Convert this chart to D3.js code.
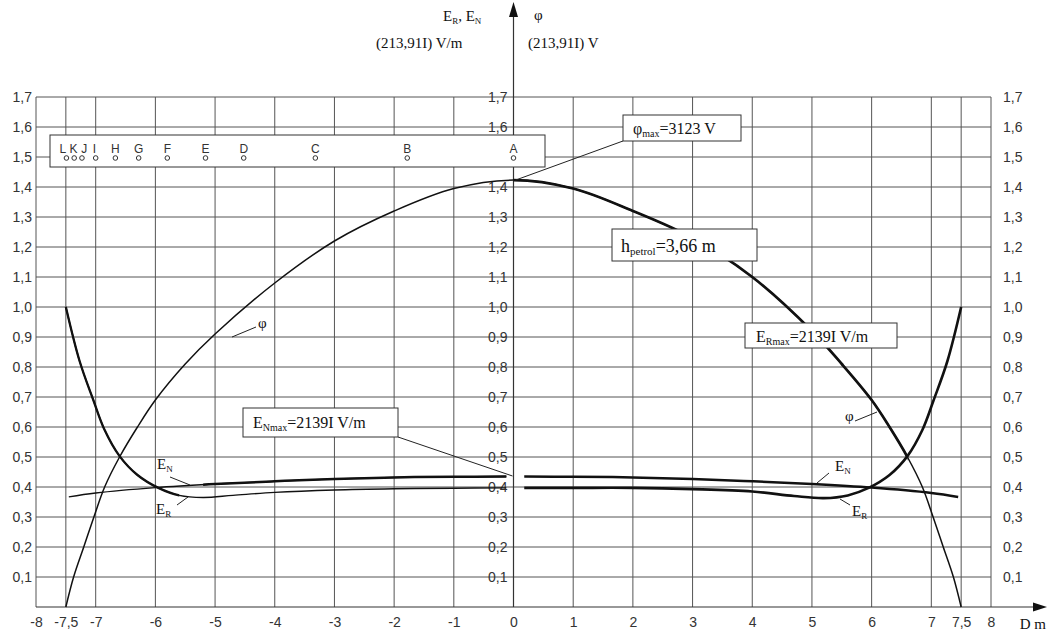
<!DOCTYPE html>
<html>
<head>
<meta charset="utf-8">
<script src="https://cdn.jsdelivr.net/npm/d3@7"></script>
<style>
  body { margin: 0; background: #fff; }
  .tick text { font-family: "Liberation Sans", Arial, sans-serif; font-size: 14px; fill: #333; }
  .serif { font-family: "Liberation Serif", "Times New Roman", serif; fill: #111; }
</style>
</head>
<body>
<div id="chart"></div>
<script>
// tick values
const xTicks = [-8, -7.5, -7, -6, -5, -4, -3, -2, -1, 0, 1, 2, 3, 4, 5, 6, 7, 7.5, 8];
const yTicks = [0.1, 0.2, 0.3, 0.4, 0.5, 0.6, 0.7, 0.8, 0.9, 1.0, 1.1, 1.2, 1.3, 1.4, 1.5, 1.6, 1.7];

// potential phi (relative)
const phiD = [-7.5, -7.37, -7.2, -7.03, -6.85, -6.6, -6.3, -6, -5.5, -5, -4, -3, -2, -1, 0,
              1, 2, 3, 4, 5, 5.5, 6, 6.3, 6.6, 6.85, 7.03, 7.2, 7.37, 7.5];
const phiV = [0, 0.1, 0.2, 0.3, 0.4, 0.5, 0.6, 0.69, 0.81, 0.91, 1.08, 1.22, 1.32, 1.395, 1.423,
              1.395, 1.32, 1.23, 1.1, 0.92, 0.81, 0.69, 0.6, 0.5, 0.4, 0.3, 0.2, 0.1, 0];

// E_R, left and right halves
const erLeftD = [-7.5, -7.27, -7.04, -6.85, -6.6, -6.3, -5.95, -5.6, -5.2, -4.7, -4, -3, -2, -1, -0.12];
const erLeftV = [1.0, 0.82, 0.69, 0.59, 0.503, 0.44, 0.397, 0.372, 0.365, 0.372, 0.382, 0.39, 0.394, 0.396, 0.397];
const erRightD = [0.18, 1, 2, 3, 4, 4.7, 5.2, 5.6, 5.95, 6.3, 6.6, 6.85, 7.04, 7.27, 7.5];
const erRightV = [0.397, 0.397, 0.397, 0.393, 0.385, 0.37, 0.363, 0.372, 0.397, 0.44, 0.503, 0.59, 0.69, 0.82, 1.0];

// E_N, left and right halves
const enLeftD = [-7.45, -7, -6, -5, -4, -3, -2, -1, -0.12];
const enLeftV = [0.367, 0.38, 0.398, 0.41, 0.419, 0.427, 0.432, 0.434, 0.435];
const enRightD = [0.18, 1, 2, 3, 4, 5, 6, 7, 7.45];
const enRightV = [0.435, 0.434, 0.432, 0.427, 0.419, 0.41, 0.398, 0.38, 0.367];

// measuring points (circle position, and where its letter sits)
const ptNames = ["A", "B", "C", "D", "E", "F", "G", "H", "I", "J", "K", "L"];
const ptD = [0, -1.78, -3.32, -4.52, -5.16, -5.8, -6.28, -6.67, -7.0, -7.23, -7.36, -7.49];
const ptLabelD = [0, -1.78, -3.32, -4.52, -5.16, -5.8, -6.28, -6.67, -7.02, -7.19, -7.37, -7.55];

const width = 1048, height = 637;
const gridColor = "#555";

const svg = d3.select("#chart").append("svg")
    .attr("width", width)
    .attr("height", height);

svg.append("rect").attr("width", width).attr("height", height).attr("fill", "#fff");

const x = d3.scaleLinear().domain([-8, 8]).range([36, 991]);
const y = d3.scaleLinear().domain([0, 1.7]).range([607, 97]);

const yFmt = d => d3.format(".1f")(d).replace(".", ",");

// grid
svg.append("g").selectAll("line")
    .data(xTicks)
    .enter()
    .append("line")
    .attr("x1", d => x(d)).attr("x2", d => x(d))
    .attr("y1", y(0)).attr("y2", y(1.7))
    .attr("stroke", gridColor).attr("stroke-width", 1);

svg.append("g").selectAll("line")
    .data(yTicks)
    .enter()
    .append("line")
    .attr("x1", x(-8)).attr("x2", x(8))
    .attr("y1", d => y(d)).attr("y2", d => y(d))
    .attr("stroke", gridColor).attr("stroke-width", 1);

// base line with arrow
svg.append("line")
    .attr("x1", x(-8)).attr("x2", 1036)
    .attr("y1", y(0)).attr("y2", y(0))
    .attr("stroke", "#333").attr("stroke-width", 1.2);
svg.append("path")
    .attr("d", `M1047,${y(0)} L1033,${y(0) - 4.5} L1033,${y(0) + 4.5} Z`)
    .attr("fill", "#111");

// vertical axis with arrow
svg.append("line")
    .attr("x1", x(0)).attr("x2", x(0))
    .attr("y1", y(0)).attr("y2", 12)
    .attr("stroke", "#333").attr("stroke-width", 1.2);
svg.append("path")
    .attr("d", `M${x(0)},2 L${x(0) - 4.5},17 L${x(0) + 4.5},17 Z`)
    .attr("fill", "#111");

// axis labels through d3 axes
const xAxis = svg.append("g")
    .attr("transform", `translate(0,${y(0)})`)
    .call(d3.axisBottom(x).tickValues(xTicks).tickSize(0).tickPadding(10)
        .tickFormat(d => String(d).replace(".", ",")));
xAxis.select(".domain").remove();

const yLeft = svg.append("g")
    .attr("transform", `translate(${x(-8) - 4},0)`)
    .call(d3.axisLeft(y).tickValues(yTicks).tickSize(0).tickPadding(0).tickFormat(yFmt));
yLeft.select(".domain").remove();

const yMid = svg.append("g")
    .attr("transform", `translate(${x(0) - 6},0)`)
    .call(d3.axisLeft(y).tickValues(yTicks).tickSize(0).tickPadding(0).tickFormat(yFmt));
yMid.select(".domain").remove();

const yRight = svg.append("g")
    .attr("transform", `translate(${x(8) + 12},0)`)
    .call(d3.axisRight(y).tickValues(yTicks).tickSize(0).tickPadding(0).tickFormat(yFmt));
yRight.select(".domain").remove();

// curves
const line = d3.line().x(d => x(d[0])).y(d => y(d[1])).curve(d3.curveCatmullRom.alpha(0.5));
const zip = (a, b) => a.map((v, i) => [v, b[i]]);

const defs = svg.append("defs");
function clip(id, d0, d1) {
    defs.append("clipPath").attr("id", id)
        .append("rect")
        .attr("x", x(d0)).attr("y", 0)
        .attr("width", x(d1) - x(d0)).attr("height", height);
    return `url(#${id})`;
}

function drawCurve(pts, w, clipUrl) {
    const p = svg.append("path")
        .datum(pts)
        .attr("d", line)
        .attr("fill", "none")
        .attr("stroke", "#111")
        .attr("stroke-width", w)
        .attr("stroke-linejoin", "round");
    if (clipUrl) p.attr("clip-path", clipUrl);
}

const phiPts = zip(phiD, phiV);
drawCurve(phiPts, 1.5);
drawCurve(phiPts, 2.7, clip("c-phi", 0, 6.6));

drawCurve(zip(erLeftD, erLeftV), 1.4);
drawCurve(zip(erLeftD, erLeftV), 2.3, clip("c-erl", -7.6, -5.6));
drawCurve(zip(erRightD, erRightV), 2.6);

drawCurve(zip(enLeftD, enLeftV), 1.4);
drawCurve(zip(enLeftD, enLeftV), 2.5, clip("c-enl", -5.2, 0));
drawCurve(zip(enRightD, enRightV), 2.5);

// measuring points box
svg.append("rect")
    .attr("x", 50).attr("y", 135).attr("width", 495).attr("height", 32)
    .attr("fill", "#fff").attr("stroke", "#333").attr("stroke-width", 1);

svg.append("g").selectAll("circle")
    .data(ptD)
    .enter()
    .append("circle")
    .attr("cx", d => x(d)).attr("cy", 158).attr("r", 2.3)
    .attr("fill", "#fff").attr("stroke", "#333").attr("stroke-width", 1);

svg.append("g").selectAll("text")
    .data(ptNames)
    .enter()
    .append("text")
    .attr("x", (d, i) => x(ptLabelD[i]))
    .attr("y", 153)
    .attr("text-anchor", "middle")
    .attr("font-family", "Liberation Sans, Arial, sans-serif")
    .attr("font-size", "12px")
    .attr("fill", "#333")
    .text(d => d);

// helper for serif text with subscript parts
function label(px, py, parts, size, anchor) {
    const t = svg.append("text").attr("class", "serif")
        .attr("x", px).attr("y", py).attr("font-size", size + "px");
    if (anchor) t.attr("text-anchor", anchor);
    parts.forEach(p => {
        const s = t.append("tspan").text(p.t);
        if (p.sub) s.attr("font-size", Math.round(size * 0.62) + "px").attr("dy", 3);
        if (p.up) s.attr("dy", -3);
    });
    return t;
}

function box(x0, y0, x1, y1) {
    svg.append("rect")
        .attr("x", x0).attr("y", y0).attr("width", x1 - x0).attr("height", y1 - y0)
        .attr("fill", "#fff").attr("stroke", "#333").attr("stroke-width", 1);
}

function leader(x0, y0, x1, y1) {
    svg.append("line")
        .attr("x1", x0).attr("y1", y0).attr("x2", x1).attr("y2", y1)
        .attr("stroke", "#222").attr("stroke-width", 1);
}

// phi max
leader(623, 141, x(0) + 2, y(1.423));
box(623, 115, 741, 141);
label(633, 134, [{t: "φ"}, {t: "max", sub: true}, {t: "=3123  V", up: true}], 16);

// E_N max
leader(398, 437, x(0) - 1, 476);
box(243, 408, 398, 437);
label(253, 428, [{t: "E"}, {t: "Nmax", sub: true}, {t: "=2139I V/m", up: true}], 16);

// E_R max
box(745, 323, 897, 348);
label(756, 342, [{t: "E"}, {t: "Rmax", sub: true}, {t: "=2139I V/m", up: true}], 16);

// h petrol
box(612, 229, 757, 261);
label(621, 252, [{t: "h"}, {t: "petrol", sub: true}, {t: "=3,66 m", up: true}], 18);

// curve labels
label(258, 328, [{t: "φ"}], 15);
leader(256, 327, 232, 337);
label(845, 421, [{t: "φ"}], 15);
leader(855, 421, 877, 412);

label(835, 471, [{t: "E"}, {t: "N", sub: true}], 15);
leader(829, 473, 817, 483);
label(852, 516, [{t: "E"}, {t: "R", sub: true}], 15);
leader(850, 505, 840, 499);

label(157, 469, [{t: "E"}, {t: "N", sub: true}], 15);
leader(170, 477, 190, 485);
label(156, 514, [{t: "E"}, {t: "R", sub: true}], 15);
leader(177, 505, 188, 497);

// top axis titles
label(443, 21, [{t: "E"}, {t: "R", sub: true}, {t: ", E", up: true}, {t: "N", sub: true}], 15);
label(534, 20, [{t: "φ"}], 15);
label(376, 48, [{t: "(213,91I) V/m"}], 15);
label(528, 48, [{t: "(213,91I) V"}], 15);

// x axis title
label(1046, 629, [{t: "D m"}], 15, "end");
</script>
</body>
</html>
